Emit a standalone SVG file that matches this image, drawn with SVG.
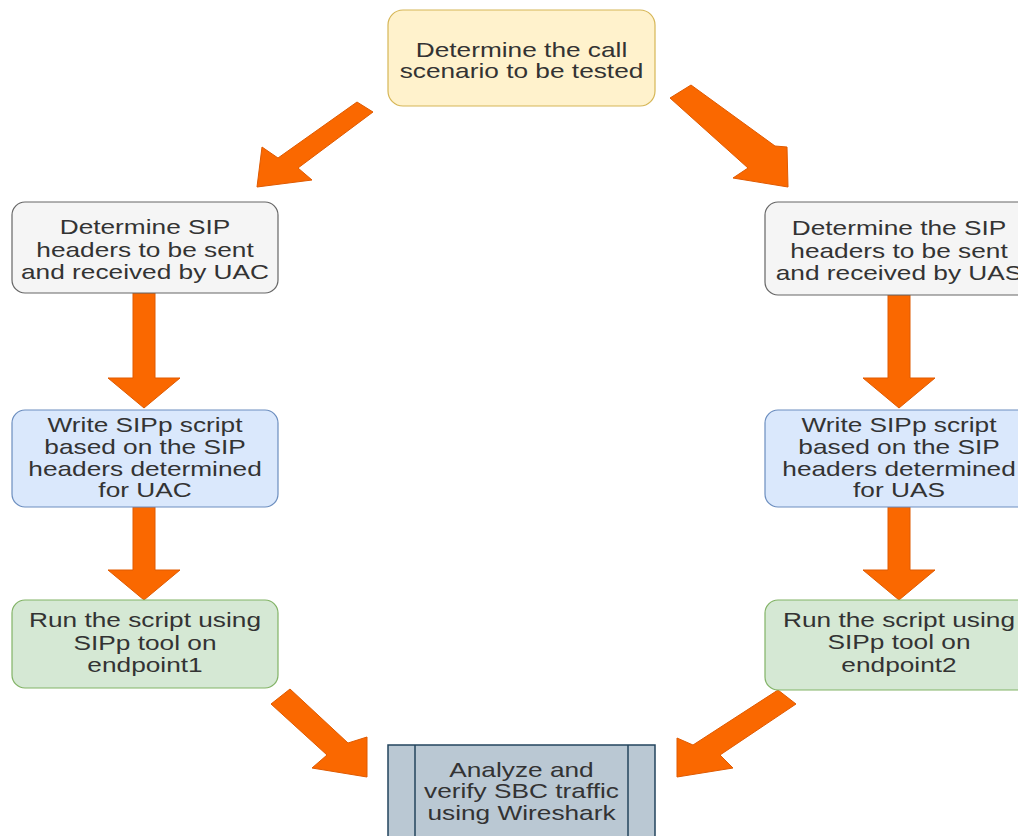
<svg xmlns="http://www.w3.org/2000/svg" width="1018" height="836" viewBox="0 0 1018 836">
<style>
.t{font-family:"Liberation Sans",Arial,sans-serif;font-size:21px;fill:#333333;text-anchor:middle}
.yel{fill:#fff2cc;stroke:#d6b656;stroke-width:1.2}
.gry{fill:#f5f5f5;stroke:#666666;stroke-width:1.2}
.blu{fill:#dae8fc;stroke:#6c8ebf;stroke-width:1.2}
.grn{fill:#d5e8d4;stroke:#82b366;stroke-width:1.2}
.prc{fill:#bac8d3;stroke:#23445d;stroke-width:1.5}
.arr{fill:#fa6800;stroke:#e05a00;stroke-width:1}
</style>
<rect width="1018" height="836" fill="#ffffff"/>
<g id="connectors">
<polygon class="arr" points="357,102 373,112 298,168 312,180 257,187 262,147 278,158"/>
<polygon class="arr" points="691,85 670,98 748,168 733,178 788,187 787,147 775,146"/>
<polygon class="arr" points="133,293 155,293 155,378 180,378 144,408 108,378 133,378"/>
<polygon class="arr" points="133,507 155,507 155,570 180,570 144,600 108,570 133,570"/>
<polygon class="arr" points="888,295 910,295 910,378 935,378 899,408 863,378 888,378"/>
<polygon class="arr" points="888,507 910,507 910,570 935,570 899,600 863,570 888,570"/>
<polygon class="arr" points="290,689 271,704 327,755 312,768 367,777 367,737 348,743"/>
<polygon class="arr" points="778,690 796,704 720,755 733,768 677,777 677,738 693,745"/>
</g>
<g id="n_top">
<rect class="yel" x="388" y="10" width="267" height="96" rx="15"/>
<g transform="translate(521.5,0) scale(1.25,1)">
<text class="t" x="0" y="57">Determine the call</text>
<text class="t" x="0" y="78">scenario to be tested</text>
</g>
</g>
<g id="n_uac_headers">
<rect class="gry" x="12" y="202" width="266" height="91" rx="13"/>
<g transform="translate(145,0) scale(1.25,1)">
<text class="t" x="0" y="234">Determine SIP</text>
<text class="t" x="0" y="257">headers to be sent</text>
<text class="t" x="0" y="279">and received by UAC</text>
</g>
</g>
<g id="n_uas_headers">
<rect class="gry" x="765" y="202" width="268" height="93" rx="13"/>
<g transform="translate(899,0) scale(1.25,1)">
<text class="t" x="0" y="235">Determine the SIP</text>
<text class="t" x="0" y="258">headers to be sent</text>
<text class="t" x="0" y="280">and received by UAS</text>
</g>
</g>
<g id="n_uac_script">
<rect class="blu" x="12" y="410" width="266" height="97" rx="13"/>
<g transform="translate(145,0) scale(1.25,1)">
<text class="t" x="0" y="432">Write SIPp script</text>
<text class="t" x="0" y="454">based on the SIP</text>
<text class="t" x="0" y="476">headers determined</text>
<text class="t" x="0" y="497">for UAC</text>
</g>
</g>
<g id="n_uas_script">
<rect class="blu" x="765" y="410" width="268" height="97" rx="13"/>
<g transform="translate(899,0) scale(1.25,1)">
<text class="t" x="0" y="432">Write SIPp script</text>
<text class="t" x="0" y="454">based on the SIP</text>
<text class="t" x="0" y="476">headers determined</text>
<text class="t" x="0" y="497">for UAS</text>
</g>
</g>
<g id="n_run1">
<rect class="grn" x="12" y="600" width="266" height="88" rx="13"/>
<g transform="translate(145,0) scale(1.25,1)">
<text class="t" x="0" y="627">Run the script using</text>
<text class="t" x="0" y="650">SIPp tool on</text>
<text class="t" x="0" y="672">endpoint1</text>
</g>
</g>
<g id="n_run2">
<rect class="grn" x="765" y="600" width="268" height="90" rx="13"/>
<g transform="translate(899,0) scale(1.25,1)">
<text class="t" x="0" y="627">Run the script using</text>
<text class="t" x="0" y="649">SIPp tool on</text>
<text class="t" x="0" y="672">endpoint2</text>
</g>
</g>
<g id="n_analyze">
<rect class="prc" x="388" y="745" width="267" height="100"/>
<line x1="415" y1="745" x2="415" y2="845" stroke="#23445d" stroke-width="1.5"/>
<line x1="628" y1="745" x2="628" y2="845" stroke="#23445d" stroke-width="1.5"/>
<g transform="translate(521.5,0) scale(1.25,1)">
<text class="t" x="0" y="777">Analyze and</text>
<text class="t" x="0" y="798">verify SBC traffic</text>
<text class="t" x="0" y="820">using Wireshark</text>
</g>
</g>
</svg>
